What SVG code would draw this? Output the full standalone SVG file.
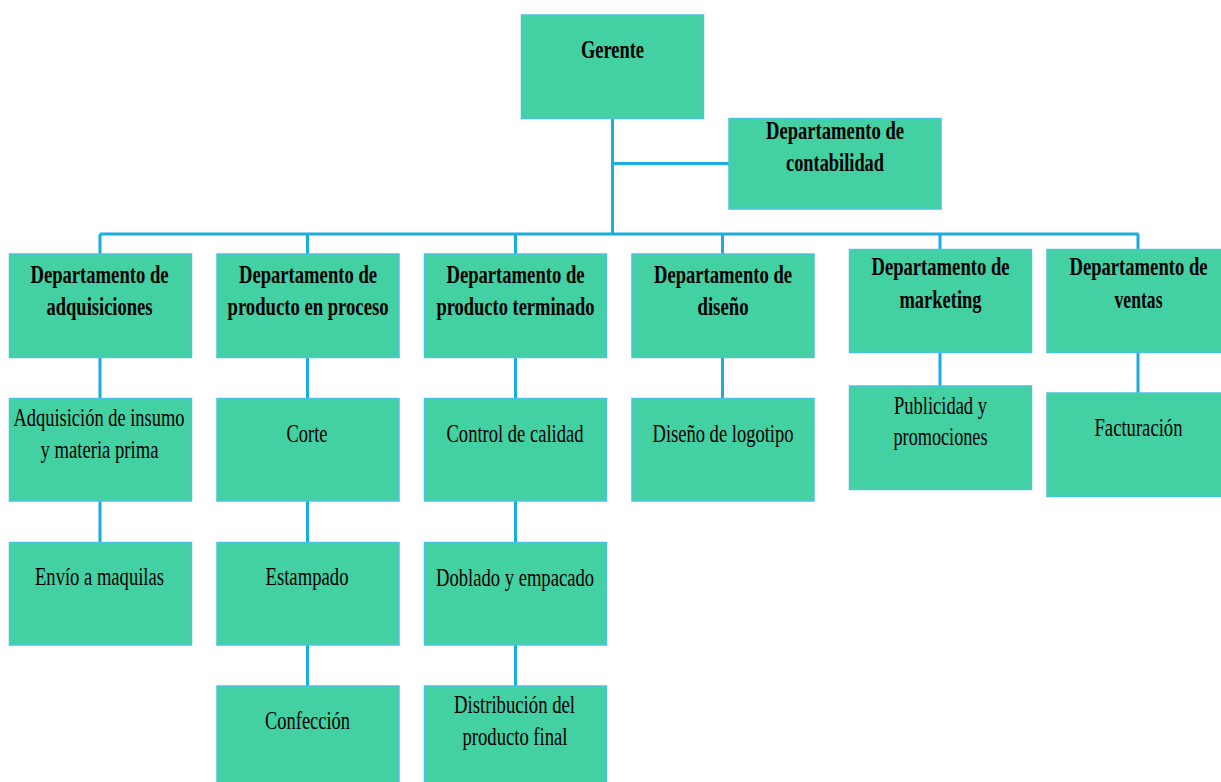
<svg xmlns="http://www.w3.org/2000/svg" width="1221" height="782" viewBox="0 0 1221 782">
<style>
.box{fill:#43d0a2;stroke:#4cc3dc;stroke-width:1.5}
.ln{stroke:#1aabe0;stroke-width:3;fill:none}
.t{font-family:"Liberation Serif","Times New Roman",serif;font-size:25px;fill:#000;text-anchor:middle}
.b{font-weight:bold}
</style>
<rect width="1221" height="782" fill="#fff"/>
<g id="connectors">
<path class="ln" d="M612.5 118V234M612.5 163.5H729M100 234H1138.5M100 234V254M307.5 234V254M515.5 234V254M722.5 234V254M940 234V249M1138 234V249"/>
<path class="ln" d="M100 357.5V398M100 501V542M307.5 357.5V398M307.5 501V542M307.5 645V686M515.5 357.5V398M515.5 501V542M515.5 645V686M722.5 357.5V398M940 352.5V386M1138 352.5V393"/>
</g>
<g id="gerente"><rect class="box" x="521.5" y="15" width="182" height="103.5"/><text class="t b" x="612.5" y="58" textLength="63" lengthAdjust="spacingAndGlyphs">Gerente</text></g>
<g id="contabilidad"><rect class="box" x="729" y="118.5" width="212" height="90.5"/><text class="t b" x="835" y="139" textLength="138" lengthAdjust="spacingAndGlyphs">Departamento de</text><text class="t b" x="835" y="171" textLength="98" lengthAdjust="spacingAndGlyphs">contabilidad</text></g>
<g id="adquisiciones"><rect class="box" x="9.5" y="254" width="182" height="103.5"/><text class="t b" x="99.5" y="282.5" textLength="138" lengthAdjust="spacingAndGlyphs">Departamento de</text><text class="t b" x="99.5" y="314.5" textLength="106" lengthAdjust="spacingAndGlyphs">adquisiciones</text></g>
<g id="proceso"><rect class="box" x="217" y="254" width="182" height="103.5"/><text class="t b" x="308" y="282.5" textLength="138" lengthAdjust="spacingAndGlyphs">Departamento de</text><text class="t b" x="308" y="314.5" textLength="161" lengthAdjust="spacingAndGlyphs">producto en proceso</text></g>
<g id="terminado"><rect class="box" x="424.5" y="254" width="182" height="103.5"/><text class="t b" x="515.5" y="282.5" textLength="138" lengthAdjust="spacingAndGlyphs">Departamento de</text><text class="t b" x="515.5" y="314.5" textLength="158" lengthAdjust="spacingAndGlyphs">producto terminado</text></g>
<g id="diseno"><rect class="box" x="632" y="254" width="182" height="103.5"/><text class="t b" x="723" y="282.5" textLength="138" lengthAdjust="spacingAndGlyphs">Departamento de</text><text class="t b" x="723" y="314.5" textLength="51" lengthAdjust="spacingAndGlyphs">diseño</text></g>
<g id="marketing"><rect class="box" x="849.5" y="249.5" width="182" height="103"/><text class="t b" x="940.5" y="275" textLength="138" lengthAdjust="spacingAndGlyphs">Departamento de</text><text class="t b" x="940.5" y="307.5" textLength="82" lengthAdjust="spacingAndGlyphs">marketing</text></g>
<g id="ventas"><rect class="box" x="1047" y="249.5" width="175" height="103"/><text class="t b" x="1138.5" y="275" textLength="138" lengthAdjust="spacingAndGlyphs">Departamento de</text><text class="t b" x="1138.5" y="307.5" textLength="48" lengthAdjust="spacingAndGlyphs">ventas</text></g>
<g id="adquisicion-insumo"><rect class="box" x="9.5" y="398.5" width="182" height="102.5"/><text class="t" x="99" y="425.5" textLength="171" lengthAdjust="spacingAndGlyphs">Adquisición de insumo</text><text class="t" x="99.5" y="457.5" textLength="118" lengthAdjust="spacingAndGlyphs">y materia prima</text></g>
<g id="corte"><rect class="box" x="217" y="398.5" width="182" height="102.5"/><text class="t" x="307" y="441.5" textLength="41" lengthAdjust="spacingAndGlyphs">Corte</text></g>
<g id="control"><rect class="box" x="424.5" y="398.5" width="182" height="102.5"/><text class="t" x="515" y="441.5" textLength="137" lengthAdjust="spacingAndGlyphs">Control de calidad</text></g>
<g id="logotipo"><rect class="box" x="632" y="398.5" width="182" height="102.5"/><text class="t" x="723" y="441.5" textLength="141" lengthAdjust="spacingAndGlyphs">Diseño de logotipo</text></g>
<g id="publicidad"><rect class="box" x="849.5" y="386" width="182" height="103.5"/><text class="t" x="940.5" y="413.5" textLength="93" lengthAdjust="spacingAndGlyphs">Publicidad y</text><text class="t" x="940.5" y="445" textLength="94" lengthAdjust="spacingAndGlyphs">promociones</text></g>
<g id="facturacion"><rect class="box" x="1047" y="393" width="175" height="103.5"/><text class="t" x="1138.5" y="436" textLength="88" lengthAdjust="spacingAndGlyphs">Facturación</text></g>
<g id="envio"><rect class="box" x="9.5" y="542.5" width="182" height="102.5"/><text class="t" x="99.5" y="585" textLength="129" lengthAdjust="spacingAndGlyphs">Envío a maquilas</text></g>
<g id="estampado"><rect class="box" x="217" y="542.5" width="182" height="102.5"/><text class="t" x="307" y="585" textLength="83" lengthAdjust="spacingAndGlyphs">Estampado</text></g>
<g id="doblado"><rect class="box" x="424.5" y="542.5" width="182" height="102.5"/><text class="t" x="515" y="586" textLength="158" lengthAdjust="spacingAndGlyphs">Doblado y empacado</text></g>
<g id="confeccion"><rect class="box" x="217" y="686" width="182" height="103"/><text class="t" x="307.5" y="729" textLength="85" lengthAdjust="spacingAndGlyphs">Confección</text></g>
<g id="distribucion"><rect class="box" x="424.5" y="686" width="182" height="103"/><text class="t" x="514.5" y="712.5" textLength="121" lengthAdjust="spacingAndGlyphs">Distribución del</text><text class="t" x="515" y="745" textLength="105" lengthAdjust="spacingAndGlyphs">producto final</text></g>
</svg>
